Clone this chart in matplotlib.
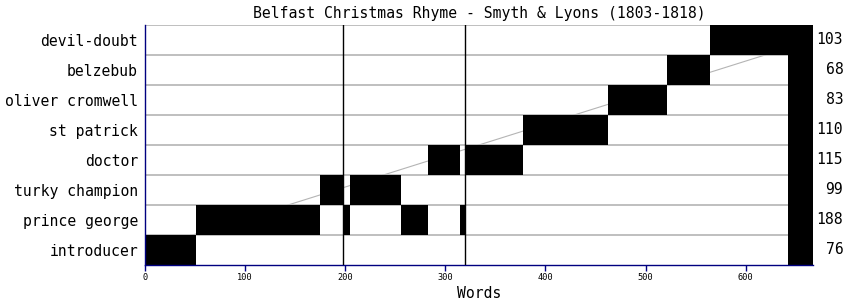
'''
Speech distribution chart: Belfast Christmas Rhyme
'''

import matplotlib
matplotlib.use( 'Agg' )
import matplotlib.pyplot as plt

# characters from bottom to top
characters = [ 'introducer', 'prince george', 'turky champion', 'doctor',
               'st patrick', 'oliver cromwell', 'belzebub', 'devil-doubt' ]
word_counts = [ 76, 188, 99, 115, 110, 83, 68, 103 ]

# (start word, end word) of each speech
introducer      = [ ( 0, 51 ) ]
prince_george   = [ ( 51, 175 ), ( 198, 205 ), ( 256, 283 ), ( 315, 320 ) ]
turky_champion  = [ ( 175, 198 ), ( 205, 256 ) ]
doctor          = [ ( 283, 315 ), ( 320, 378 ) ]
st_patrick      = [ ( 378, 463 ) ]
oliver_cromwell = [ ( 463, 521 ) ]
belzebub        = [ ( 521, 564 ) ]
devil_doubt     = [ ( 564, 642 ) ]
speeches = [ introducer, prince_george, turky_champion, doctor,
             st_patrick, oliver_cromwell, belzebub, devil_doubt ]

scene_breaks = [ 198, 320 ]
text_end     = 642
plot_end     = 667
x_ticks      = [ 0, 100, 200, 300, 400, 500, 600 ]

navy = '#000080'
grey = '#b4b4b4'
font = 'DejaVu Sans Mono'
fs   = 10.6

fig = plt.figure( figsize = ( 8.49, 3.05 ), dpi = 100 )
ax  = fig.add_axes( [ 145 / 849, 1 - 265 / 305, 667.7 / 849, 240 / 305 ] )

n = len( characters )

# diagonal guide line
ax.plot( [ 0, plot_end ], [ 0, n - 1 ], color = grey, lw = 0.8, zorder = 1 )

# row separators
for k in range( n ):
    ax.axhline( k + 0.5, color = grey, lw = 1.2, zorder = 1 )

for i, segs in enumerate( speeches ):
    ax.broken_barh( [ ( a, b - a ) for a, b in segs ], ( i - 0.5, 1 ),
                    facecolor = 'black', edgecolor = 'none', zorder = 2 )

# filler column after the end of the text
ax.axvspan( text_end, plot_end, color = 'black', lw = 0, zorder = 2 )

for s in scene_breaks:
    ax.axvline( s, color = 'black', lw = 1.0, zorder = 3 )

ax.set_xlim( 0, plot_end )
ax.set_ylim( -0.5, n - 0.5 )

ax.set_yticks( range( n ) )
ax.set_yticklabels( characters, family = font, fontsize = fs )
ax.tick_params( axis = 'y', length = 0, pad = 5 )

ax.set_xticks( x_ticks )
ax.set_xticklabels( [ str( t ) for t in x_ticks ], family = font, fontsize = 6.2 )
ax.tick_params( axis = 'x', length = 4, width = 1, color = navy, pad = 2 )

for i, c in enumerate( word_counts ):
    ax.annotate( str( c ), xy = ( 1, i ), xycoords = ( 'axes fraction', 'data' ),
                 xytext = ( 22, 0 ), textcoords = 'offset points',
                 ha = 'right', va = 'center', family = font, fontsize = fs )

for side in [ 'top', 'right' ]:
    ax.spines[ side ].set_visible( False )
for side in [ 'left', 'bottom' ]:
    ax.spines[ side ].set_color( navy )
    ax.spines[ side ].set_linewidth( 1.0 )

ax.set_xlabel( 'Words', family = font, fontsize = fs, labelpad = 3 )
ax.set_title( 'Belfast Christmas Rhyme - Smyth & Lyons (1803-1818)',
              family = font, fontsize = fs, pad = 5 )

fig.savefig( 'out.png', dpi = 100 )
